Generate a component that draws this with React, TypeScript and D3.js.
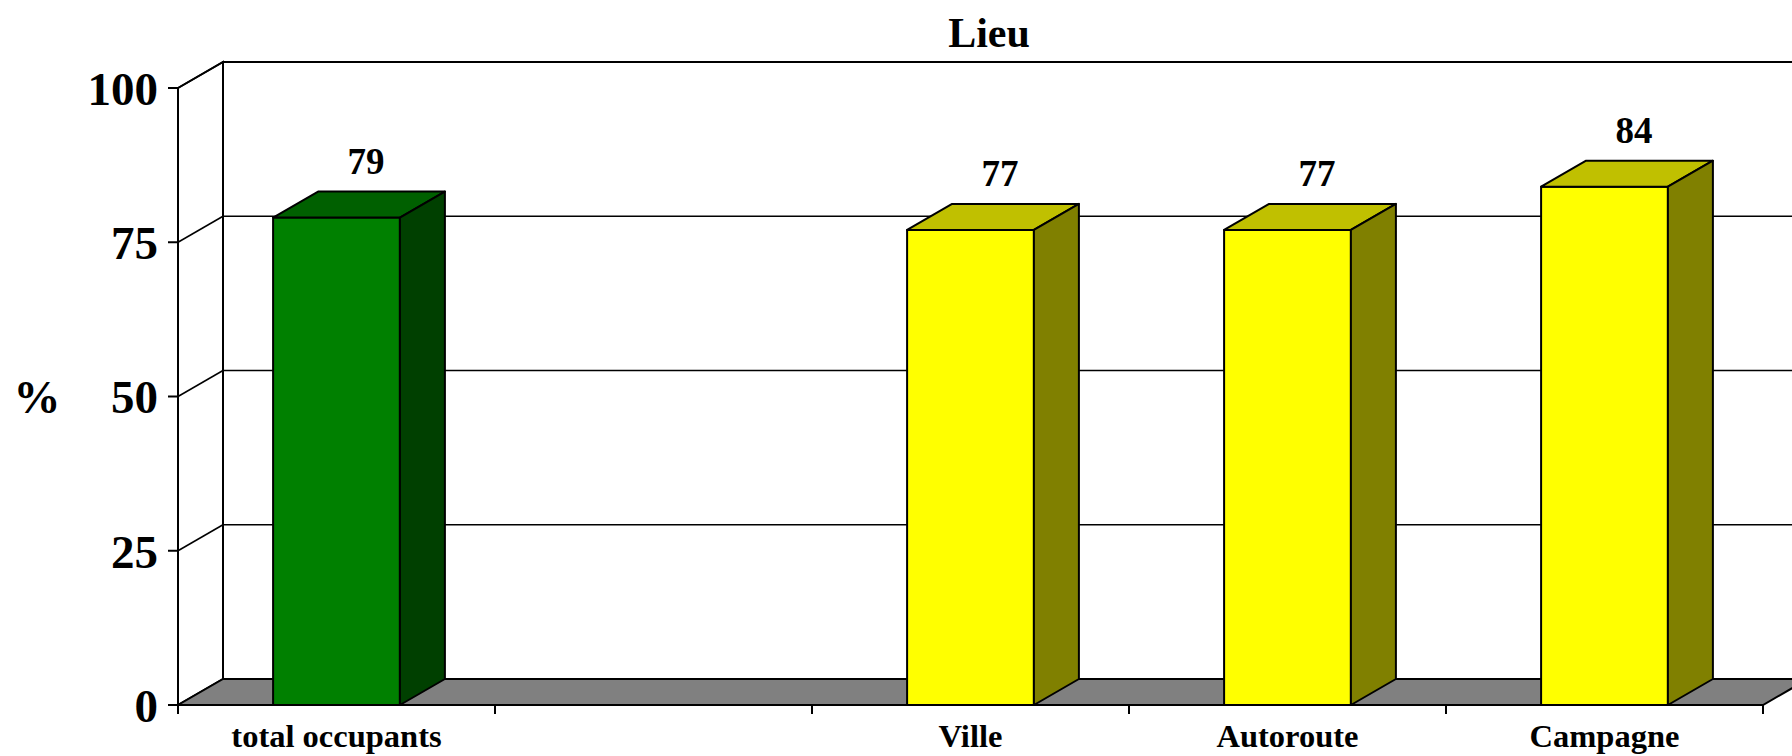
import * as d3 from 'd3';

// données
const categories = ['total occupants', '', 'Ville', 'Autoroute', 'Campagne'];
const values: (number | null)[] = [79, null, 77, 77, 84];
const groups = ['total', 'lieu', 'lieu', 'lieu', 'lieu'];
const yTicks = [0, 25, 50, 75, 100];
const title = 'Lieu';
const yLabel = '%';

const W = 1792;
const H = 756;
const margin = { left: 178, right: 1763, top: 88, bottom: 705 };
const DX = 45; // profondeur 3D
const DY = 26;

const palette: Record<string, { front: string; top: string; side: string }> = {
  total: { front: '#008000', top: '#006000', side: '#004000' },
  lieu: { front: '#ffff00', top: '#c0c000', side: '#808000' },
};

const font = '"Liberation Serif", "Times New Roman", serif';

const App = () => {
  const x = d3.scaleBand<string>()
    .domain(categories)
    .range([margin.left, margin.right])
    .paddingInner(0)
    .paddingOuter(0);

  const y = d3.scaleLinear()
    .domain([0, 100])
    .range([margin.bottom, margin.top]);

  const bw = x.bandwidth() * 0.4;
  const y0 = y(0);
  const backRight = margin.right + DX;

  const pts = (p: [number, number][]) => p.map(d => d.join(',')).join(' ');

  return (
    <svg width={W} height={H} style={{ position: 'absolute', left: 0, top: 0, background: '#fff' }}>
      {/* titre */}
      <text x={989} y={47} textAnchor="middle" fontFamily={font} fontWeight="bold" fontSize={42}>
        {title}
      </text>

      {/* murs */}
      <rect x={margin.left + DX} y={y(100) - DY} width={backRight - margin.left - DX} height={y0 - y(100)}
        fill="#fff" stroke="#000" strokeWidth={2} />
      <polygon
        points={pts([[margin.left, y0], [margin.left, y(100)], [margin.left + DX, y(100) - DY], [margin.left + DX, y0 - DY]])}
        fill="#fff" stroke="#000" strokeWidth={2} />

      {/* quadrillage */}
      {yTicks.filter(t => t > 0).map(t => (
        <g key={t}>
          <line x1={margin.left} y1={y(t)} x2={margin.left + DX} y2={y(t) - DY} stroke="#000" strokeWidth={1.5} />
          <line x1={margin.left + DX} y1={y(t) - DY} x2={backRight} y2={y(t) - DY} stroke="#000" strokeWidth={1.5} />
        </g>
      ))}

      {/* sol */}
      <polygon
        points={pts([[margin.left, y0], [margin.right, y0], [backRight, y0 - DY], [margin.left + DX, y0 - DY]])}
        fill="#808080" stroke="#000" strokeWidth={2} />

      {/* axe vertical */}
      <line x1={margin.left} y1={y(100)} x2={margin.left} y2={y0} stroke="#000" strokeWidth={2} />
      {yTicks.map(t => (
        <g key={t}>
          <line x1={margin.left - 10} y1={y(t)} x2={margin.left} y2={y(t)} stroke="#000" strokeWidth={2} />
          <text x={158} y={y(t)} dy="0.36em" textAnchor="end" fontFamily={font} fontWeight="bold" fontSize={47}>
            {t}
          </text>
        </g>
      ))}
      <text x={37} y={y(50)} dy="0.36em" textAnchor="middle" fontFamily={font} fontWeight="bold" fontSize={47}>
        {yLabel}
      </text>

      {/* axe horizontal */}
      <line x1={margin.left} y1={y0} x2={margin.right} y2={y0} stroke="#000" strokeWidth={2} />
      {[...categories.map(c => x(c) as number), margin.right].map((tx, i) => (
        <line key={i} x1={tx} y1={y0} x2={tx} y2={y0 + 9} stroke="#000" strokeWidth={2} />
      ))}
      {categories.map(c => (
        <text key={c || 'vide'} x={(x(c) as number) + x.bandwidth() / 2} y={747} textAnchor="middle"
          fontFamily={font} fontWeight="bold" fontSize={32.5}>
          {c}
        </text>
      ))}

      {/* barres */}
      {categories.map((c, i) => {
        const v = values[i];
        if (v == null) return null;
        const col = palette[groups[i]];
        const cx = (x(c) as number) + x.bandwidth() / 2;
        const x0 = cx - bw / 2;
        const x1 = cx + bw / 2;
        const yv = y(v);
        return (
          <g key={c} stroke="#000" strokeWidth={2} strokeLinejoin="round">
            <rect x={x0} y={yv} width={bw} height={y0 - yv} fill={col.front} />
            <polygon points={pts([[x0, yv], [x0 + DX, yv - DY], [x1 + DX, yv - DY], [x1, yv]])} fill={col.top} />
            <polygon points={pts([[x1, yv], [x1 + DX, yv - DY], [x1 + DX, y0 - DY], [x1, y0]])} fill={col.side} />
            <text x={cx + DX / 2 + 7} y={yv - DY - 18} textAnchor="middle" stroke="none" fill="#000"
              fontFamily={font} fontWeight="bold" fontSize={37}>
              {v}
            </text>
          </g>
        );
      })}
    </svg>
  );
};

export default App;
